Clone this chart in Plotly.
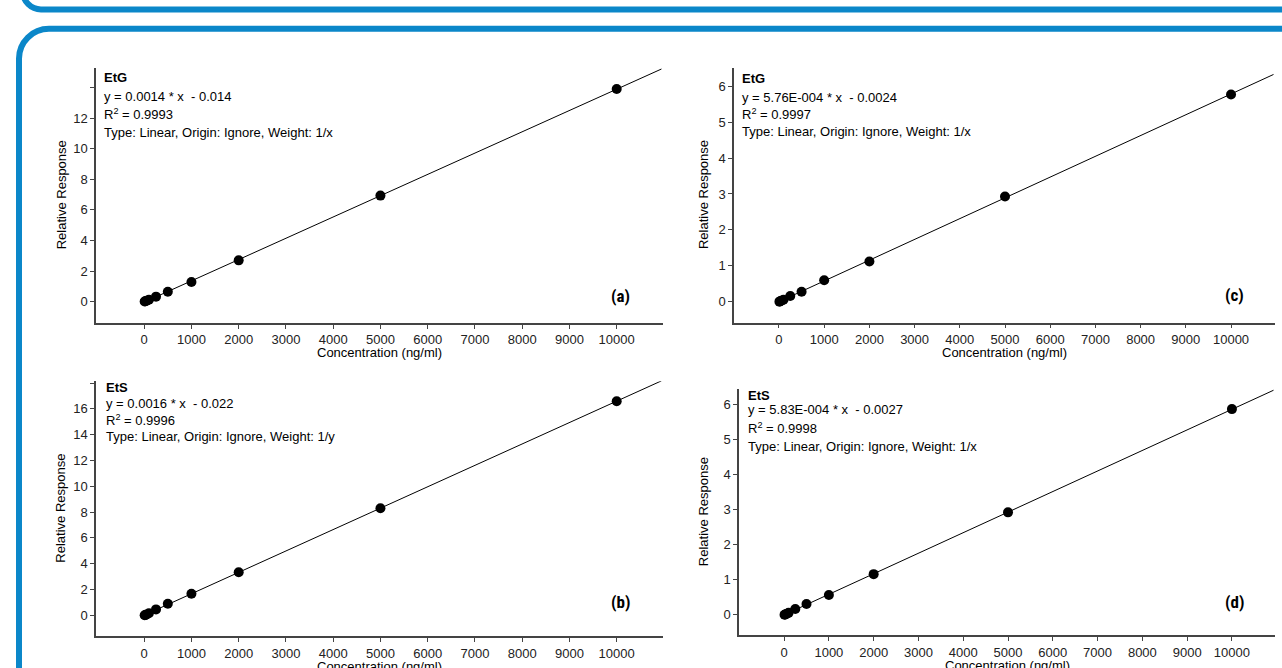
import numpy as np
import plotly.graph_objects as go

W, H = 1282, 668

# ---------------- data ----------------
conc = [10, 25, 50, 100, 250, 500, 1000, 2000, 5000, 10000]
resp_a = [0.01, 0.03, 0.06, 0.13, 0.33, 0.65, 1.29, 2.70, 6.93, 13.90]
resp_b = [0.01, 0.03, 0.07, 0.16, 0.46, 0.90, 1.67, 3.34, 8.30, 16.60]
resp_c = [0.004, 0.012, 0.027, 0.056, 0.16, 0.28, 0.60, 1.12, 2.93, 5.77]
resp_d = [0.004, 0.012, 0.027, 0.058, 0.17, 0.31, 0.565, 1.16, 2.92, 5.86]

x_tickvals = [0, 1000, 2000, 3000, 4000, 5000, 6000, 7000, 8000, 9000, 10000]
x_ticktext = ["0", "1000", "2000", "3000", "4000", "5000", "6000", "7000", "8000", "9000", "10000"]

y_tickvals_a = [0, 2, 4, 6, 8, 10, 12, 14]
y_ticktext_a = ["0", "2", "4", "6", "8", "10", "12", " "]
y_tickvals_b = [0, 2, 4, 6, 8, 10, 12, 14, 16, 18]
y_ticktext_b = ["0", "2", "4", "6", "8", "10", "12", "14", "16", " "]
y_tickvals_cd = [0, 1, 2, 3, 4, 5, 6]
y_ticktext_cd = ["0", "1", "2", "3", "4", "5", "6"]

analytes = ["EtG", "EtS", "EtG", "EtS"]
equations = ["y = 0.0014 * x  - 0.014", "y = 0.0016 * x  - 0.022",
             "y = 5.76E-004 * x  - 0.0024", "y = 5.83E-004 * x  - 0.0027"]
r2_values = ["0.9993", "0.9996", "0.9997", "0.9998"]
fit_types = ["Type: Linear, Origin: Ignore, Weight: 1/x",
             "Type: Linear, Origin: Ignore, Weight: 1/y",
             "Type: Linear, Origin: Ignore, Weight: 1/x",
             "Type: Linear, Origin: Ignore, Weight: 1/x"]
panel_labels = ["(a)", "(b)", "(c)", "(d)"]
x_title = "Concentration (ng/ml)"
y_title = "Relative Response"

# ---------------- layout geometry (pixels) ----------------
panels = [
    dict(resp=resp_a, xd=(96, 663), yd=(63, 320.5), xr=(-1020, 10980), yr=(-1.4, 15.3),
         tv=y_tickvals_a, tt=y_ticktext_a, text_x=102, text_y=(73, 92, 110, 128),
         lab=(620, 293), ytitle_x=61),
    dict(resp=resp_b, xd=(96, 663), yd=(379, 636), xr=(-1020, 10980), yr=(-1.62, 18.15),
         tv=y_tickvals_b, tt=y_ticktext_b, text_x=104, text_y=(385, 401.5, 418, 435),
         lab=(620, 602), ytitle_x=61),
    dict(resp=resp_c, xd=(734, 1275), yd=(63, 320), xr=(-995, 10973), yr=(-0.58, 6.52),
         tv=y_tickvals_cd, tt=y_ticktext_cd, text_x=740, text_y=(74, 93, 109.5, 127),
         lab=(1234, 292.5), ytitle_x=703),
    dict(resp=resp_d, xd=(739, 1275), yd=(387, 635), xr=(-1007, 10962), yr=(-0.58, 6.43),
         tv=y_tickvals_cd, tt=y_ticktext_cd, text_x=746, text_y=(393, 407.5, 426.5, 445),
         lab=(1234, 601), ytitle_x=703),
]

FONT = "Liberation Sans, Arial, Helvetica, sans-serif"
FS = 13
AXC = "#444444"


def px(x):
    return x / W


def py(y):
    return 1 - y / H


fig = go.Figure()
annotations = []
layout_axes = {}

for i, p in enumerate(panels):
    n = i + 1
    xa = "x" if n == 1 else f"x{n}"
    ya = "y" if n == 1 else f"y{n}"
    xkey = "xaxis" if n == 1 else f"xaxis{n}"
    ykey = "yaxis" if n == 1 else f"yaxis{n}"

    slope, intercept = np.polyfit(conc, p["resp"], 1)
    lx = np.array([0, p["xr"][1] * 0.997])
    ly = slope * lx + intercept

    fig.add_trace(go.Scatter(x=lx, y=ly, mode="lines", line=dict(color="black", width=1),
                             xaxis=xa, yaxis=ya, showlegend=False, hoverinfo="skip"))
    fig.add_trace(go.Scatter(x=conc, y=p["resp"], mode="markers",
                             marker=dict(color="black", size=10),
                             xaxis=xa, yaxis=ya, showlegend=False, cliponaxis=False))

    common = dict(showgrid=False, zeroline=False, showline=True, linecolor=AXC, linewidth=1.5,
                  ticks="outside", ticklen=4, tickcolor=AXC, tickwidth=1,
                  tickfont=dict(family=FONT, size=FS, color="#222222"), fixedrange=True)
    layout_axes[xkey] = dict(domain=[px(p["xd"][0]), px(p["xd"][1])], range=list(p["xr"]),
                             anchor=ya, tickmode="array", tickvals=x_tickvals,
                             ticktext=x_ticktext, **common)
    layout_axes[ykey] = dict(domain=[py(p["yd"][1]), py(p["yd"][0])], range=list(p["yr"]),
                             anchor=xa, tickmode="array", tickvals=p["tv"], ticktext=p["tt"],
                             **common)

    lines = [f"<b>{analytes[i]}</b>", equations[i], f"R<sup>2</sup> = {r2_values[i]}", fit_types[i]]
    for t, yy in zip(lines, p["text_y"]):
        annotations.append(dict(text=t, x=px(p["text_x"]), y=py(yy), xref="paper", yref="paper",
                                xanchor="left", yanchor="middle", showarrow=False,
                                font=dict(family=FONT, size=FS, color="black")))
    annotations.append(dict(text=f"<b>{panel_labels[i]}</b>", x=px(p["lab"][0]), y=py(p["lab"][1]),
                            xref="paper", yref="paper", xanchor="center", yanchor="middle",
                            showarrow=False,
                            font=dict(family="Liberation Sans Narrow, Roboto Condensed, Arial Narrow, sans-serif",
                                      size=17, color="black")))
    annotations.append(dict(text=x_title, x=px((p["xd"][0] + p["xd"][1]) / 2),
                            y=py(p["yd"][1] + 30), xref="paper", yref="paper",
                            xanchor="center", yanchor="middle", showarrow=False,
                            font=dict(family=FONT, size=FS, color="black")))
    annotations.append(dict(text=y_title, x=px(p["ytitle_x"]), y=py((p["yd"][0] + p["yd"][1]) / 2),
                            xref="paper", yref="paper", xanchor="center", yanchor="middle",
                            textangle=-90, showarrow=False,
                            font=dict(family=FONT, size=FS, color="black")))

BLUE = "#0b87c9"
k = 0.5523

r1 = 18
x1, y1 = 23, 4.5
top_path = (f"M {px(x1)},{py(-40)} L {px(x1)},{py(y1 - r1)} "
            f"C {px(x1)},{py(y1 - r1 + r1 * k)} {px(x1 + r1 - r1 * k)},{py(y1)} {px(x1 + r1)},{py(y1)} "
            f"L {px(1320)},{py(y1)}")
r2 = 30
x2, y2 = 19, 24
box_path = (f"M {px(x2)},{py(720)} L {px(x2)},{py(y2 + r2)} "
            f"C {px(x2)},{py(y2 + r2 - r2 * k)} {px(x2 + r2 - r2 * k)},{py(y2)} {px(x2 + r2)},{py(y2)} "
            f"L {px(1320)},{py(y2)}")
shapes = [
    dict(type="path", path=top_path, xref="paper", yref="paper", line=dict(color=BLUE, width=6)),
    dict(type="path", path=box_path, xref="paper", yref="paper", line=dict(color=BLUE, width=6)),
]

fig.update_layout(width=W, height=H, margin=dict(l=0, r=0, t=0, b=0), autosize=False,
                  paper_bgcolor="white", plot_bgcolor="white",
                  font=dict(family=FONT, size=FS, color="black"),
                  annotations=annotations, shapes=shapes, showlegend=False, **layout_axes)

fig.write_html("out.html", config={"displayModeBar": False},
               post_script="document.body.style.margin='0';document.body.style.overflow='hidden';")
